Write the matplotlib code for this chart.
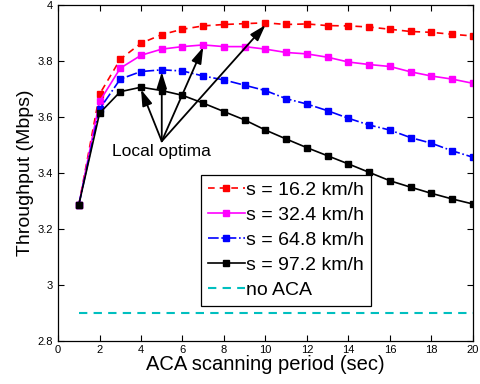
import numpy as np
import matplotlib
matplotlib.use("Agg")
import matplotlib.pyplot as plt

plt.rcParams['font.family'] = ['Liberation Sans', 'DejaVu Sans']

period = list(range(1, 21))

tp_16 = [3.285, 3.68, 3.805, 3.862, 3.893, 3.912, 3.924, 3.929, 3.932, 3.935,
         3.929, 3.931, 3.925, 3.924, 3.920, 3.912, 3.904, 3.901, 3.894, 3.888]
tp_32 = [3.285, 3.654, 3.773, 3.819, 3.841, 3.850, 3.856, 3.850, 3.850, 3.841,
         3.829, 3.824, 3.812, 3.795, 3.786, 3.779, 3.760, 3.745, 3.734, 3.719]
tp_64 = [3.285, 3.627, 3.734, 3.761, 3.767, 3.763, 3.745, 3.731, 3.712, 3.693,
         3.664, 3.645, 3.621, 3.594, 3.570, 3.552, 3.525, 3.505, 3.478, 3.455]
tp_97 = [3.285, 3.612, 3.689, 3.705, 3.693, 3.676, 3.648, 3.618, 3.588, 3.552,
         3.520, 3.489, 3.460, 3.431, 3.401, 3.371, 3.348, 3.326, 3.306, 3.288]
no_aca = [2.9] * 20

labels = ["s = 16.2 km/h", "s = 32.4 km/h", "s = 64.8 km/h", "s = 97.2 km/h", "no ACA"]

# peaks pointed at by the arrows (x index, series)
optima = [(4, tp_97), (5, tp_64), (7, tp_32), (10, tp_16)]

fig = plt.figure(figsize=(4.8, 3.84), dpi=100)
ax = fig.add_axes([0.121, 0.113, 0.864, 0.875])

ax.plot(period, tp_16, color="red", ls="--", marker="s", ms=3.8, lw=1.2, dashes=(4, 3), label=labels[0])
ax.plot(period, tp_32, color="magenta", ls="-", marker="s", ms=3.8, lw=1.2, label=labels[1])
ax.plot(period, tp_64, color="blue", ls="-.", marker="s", ms=3.8, lw=1.2, label=labels[2])
ax.plot(period, tp_97, color="black", ls="-", marker="s", ms=3.8, lw=1.2, label=labels[3])
ax.plot(period, no_aca, color="#00bfbf", ls="--", lw=1.5, dashes=(4, 3), label=labels[4])

for x, series in optima:
    ax.annotate("", xy=(x, series[x - 1] - 0.008), xytext=(5.0, 3.512),
                arrowprops=dict(arrowstyle="-|>,head_length=0.7,head_width=0.22",
                                color="black", lw=1.3,
                                mutation_scale=14, shrinkA=0, shrinkB=0))
ax.text(5.0, 3.502, "Local optima", ha="center", va="top", fontsize=12.5)

ax.set_xlim(0, 20)
ax.set_ylim(2.8, 4.0)
ax.set_xticks(range(0, 21, 2))
ax.set_yticks(np.arange(2.8, 4.01, 0.2))
ax.set_yticklabels(["2.8", "3", "3.2", "3.4", "3.6", "3.8", "4"])
ax.tick_params(direction="in", top=True, right=True, labelsize=8, length=4, width=0.8)
for s in ax.spines.values():
    s.set_linewidth(0.9)

ax.set_xlabel("ACA scanning period (sec)", fontsize=14.5, labelpad=0)
ax.set_ylabel("Throughput (Mbps)", fontsize=14, labelpad=3)

leg = ax.legend(loc="lower left", bbox_to_anchor=(0.345, 0.103), fontsize=14,
                frameon=True, fancybox=False, edgecolor="black", framealpha=1,
                handlelength=1.9, handletextpad=0.05, borderpad=0.35, labelspacing=0.38,
                borderaxespad=0)
leg.get_frame().set_linewidth(0.9)

fig.savefig("out.png", dpi=100)
